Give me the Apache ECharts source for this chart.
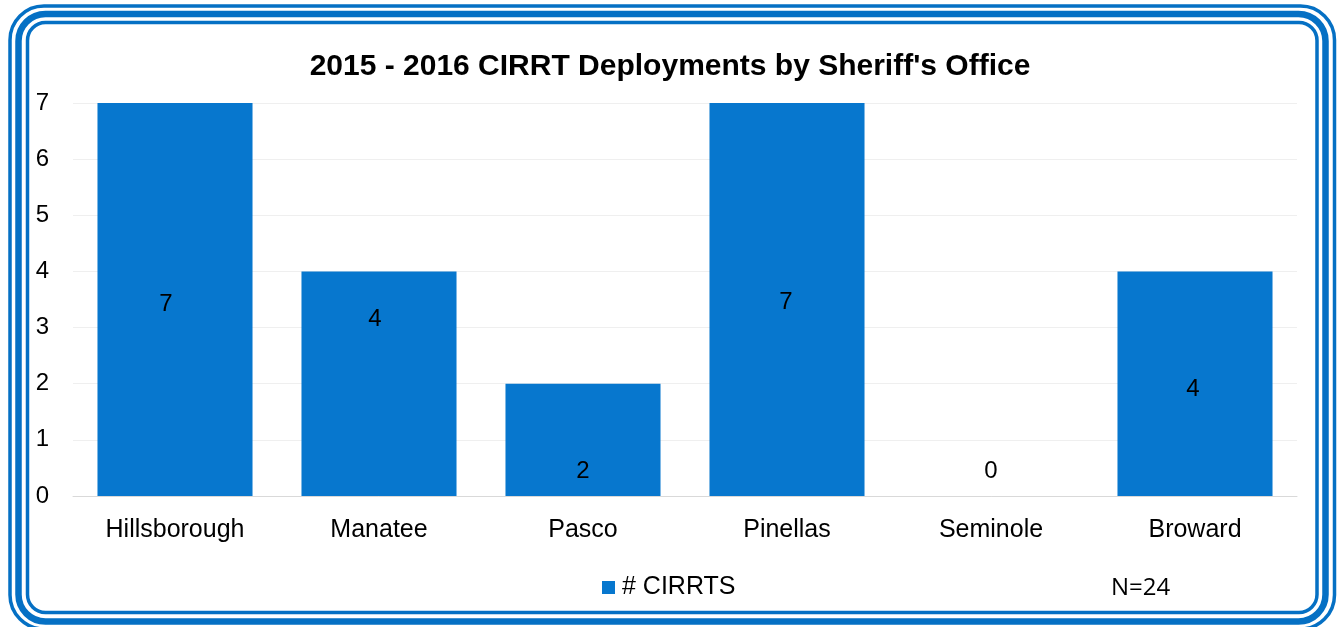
<!DOCTYPE html>
<html>
<head>
<meta charset="utf-8">
<title>CIRRT Deployments</title>
<script src="https://cdn.jsdelivr.net/npm/echarts@6/dist/echarts.min.js"></script>
<style>
  html, body { margin: 0; padding: 0; background: #fff; }
  #chart { width: 1340px; height: 627px; }
</style>
</head>
<body>
<div id="chart"></div>
<script>
// data
const offices = ['Hillsborough', 'Manatee', 'Pasco', 'Pinellas', 'Seminole', 'Broward'];
const cirrts = [7, 4, 2, 7, 0, 4];
const yTicks = [0, 1, 2, 3, 4, 5, 6, 7];
const seriesName = '# CIRRTS';
const titleText = "2015 - 2016 CIRRT Deployments by Sheriff's Office";
const noteText = 'N=24';

// labels were moved by hand in the original, so nudge each one
const labelShift = [[-9, 5], [-4, -64], [0, 32], [-1, 3], [0, -25], [-2, 6]];

const BLUE = '#0777CE';
const FRAME = '#0570C4';
const FONT = '"Liberation Sans", Arial, sans-serif';

const myChart = echarts.init(document.getElementById('chart'));

myChart.setOption({
  backgroundColor: '#fff',
  animation: false,
  title: {
    text: titleText,
    left: 'center',
    top: 47,
    textStyle: { fontFamily: FONT, fontSize: 30, fontWeight: 'bold', color: '#000' },
  },
  legend: {
    data: [seriesName],
    left: 597,
    top: 570,
    icon: 'rect',
    itemWidth: 13,
    itemHeight: 13,
    textStyle: { fontFamily: FONT, fontSize: 25, color: '#000', padding: [0, 0, 0, 2] },
  },
  grid: {
    left: 73,
    right: 43,
    top: 103,
    bottom: 131,
  },
  xAxis: {
    type: 'category',
    data: offices,
    axisTick: { show: false },
    axisLine: { lineStyle: { color: '#d9d9d9', width: 1 } },
    axisLabel: { fontFamily: FONT, fontSize: 25, color: '#000', margin: 22 },
  },
  yAxis: {
    type: 'value',
    min: yTicks[0],
    max: yTicks[yTicks.length - 1],
    interval: 1,
    axisLine: { show: false },
    axisTick: { show: false },
    axisLabel: { fontFamily: FONT, fontSize: 24, color: '#000', margin: 24 },
    splitLine: { lineStyle: { color: '#efefef', width: 1 } },
  },
  series: [
    {
      name: seriesName,
      type: 'bar',
      barCategoryGap: '24%',
      itemStyle: { color: BLUE },
      data: cirrts.map((v, i) => ({
        value: v,
        label: { offset: labelShift[i] },
      })),
      label: {
        show: true,
        position: 'inside',
        fontFamily: FONT,
        fontSize: 24,
        color: '#000',
      },
    },
  ],
  graphic: [
    // triple rounded frame
    {
      type: 'rect',
      silent: true,
      shape: { x: 10, y: 6, width: 1324.5, height: 623, r: 34 },
      style: { fill: 'none', stroke: FRAME, lineWidth: 3.5 },
    },
    {
      type: 'rect',
      silent: true,
      shape: { x: 18.5, y: 14, width: 1307, height: 607.5, r: 27 },
      style: { fill: 'none', stroke: FRAME, lineWidth: 6.5 },
    },
    {
      type: 'rect',
      silent: true,
      shape: { x: 27.5, y: 22.5, width: 1289.5, height: 590, r: 18 },
      style: { fill: 'none', stroke: FRAME, lineWidth: 3.5 },
    },
    {
      type: 'text',
      left: 1111,
      top: 576,
      style: {
        text: noteText,
        fontFamily: '"Open Sans", Carlito, sans-serif',
        fontSize: 24,
        fill: '#000',
      },
    },
  ],
});
</script>
</body>
</html>
